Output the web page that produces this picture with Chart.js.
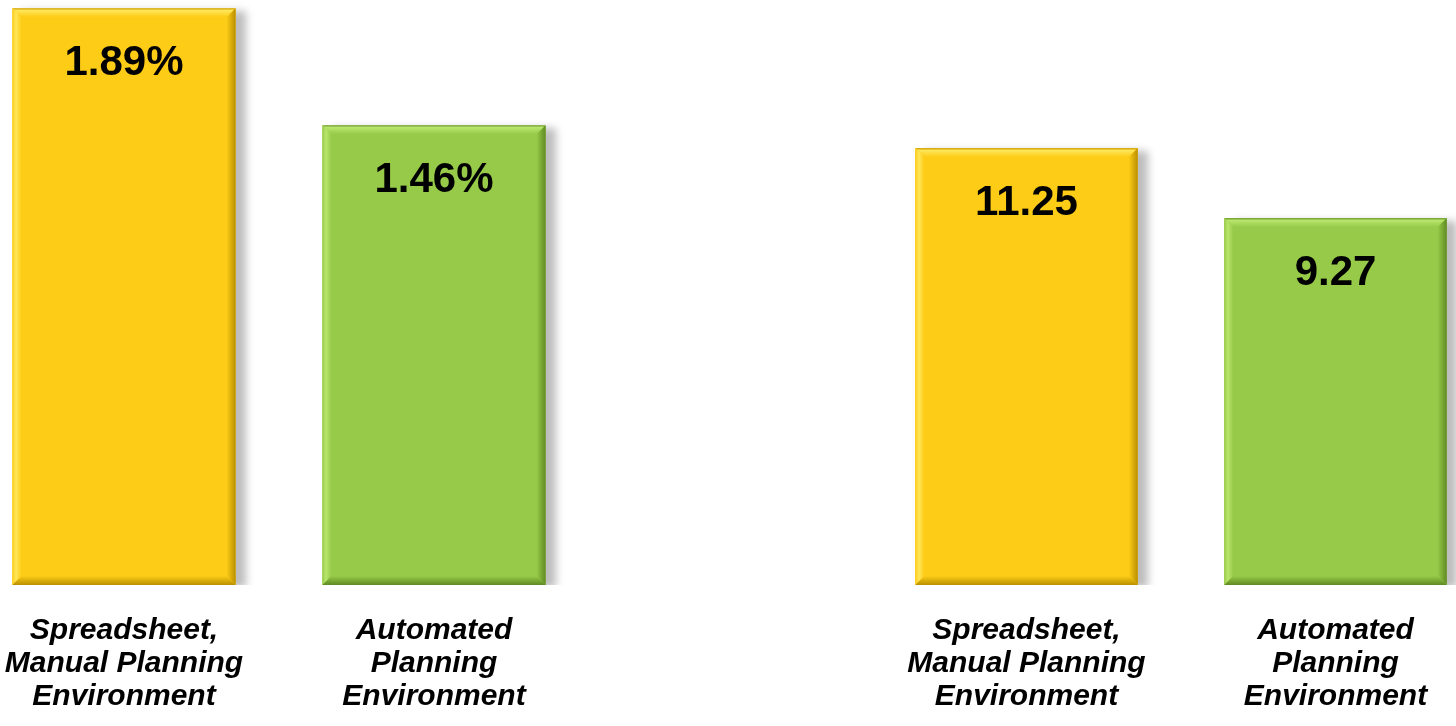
<!DOCTYPE html>
<html>
<head>
<meta charset="utf-8">
<script src="https://cdn.jsdelivr.net/npm/chart.js@4.4.0/dist/chart.umd.min.js"></script>
<style>
    html, body { margin: 0; padding: 0; background: #ffffff; overflow: hidden; width: 1456px; height: 726px; }
    .grafico { position: absolute; top: 0; height: 726px; }
    #graficoEsquerdo { left: -31px; width: 620px; }
    #graficoDireito { left: 872px; width: 618px; }
</style>
</head>
<body>
<div class="grafico" id="graficoEsquerdo"><canvas id="graficoEsquerdoCanvas"></canvas></div>
<div class="grafico" id="graficoDireito"><canvas id="graficoDireitoCanvas"></canvas></div>
<script>
const categorias = [
    ['Spreadsheet,', 'Manual Planning', 'Environment'],
    ['Automated', 'Planning', 'Environment']
]
const valoresEsquerda = [1.89, 1.46]
const valoresDireita = [11.25, 9.27]
const sufixoEsquerda = '%'
const sufixoDireita = ''
const cores = ['#FDCC17', '#97CA48']
const coresClaras = ['#FFE65A', '#B9E66E']
const coresEscuras = ['#B98F00', '#5F8A22']

// sombra atras das barras
const sombraBarras = {
    id: 'sombraBarras',
    beforeDatasetDraw(chart) {
        const ctx = chart.ctx
        ctx.save()
        ctx.shadowColor = 'rgba(0,0,0,0.26)'
        ctx.shadowBlur = 8
        ctx.shadowOffsetX = 10
        ctx.shadowOffsetY = 3
    },
    afterDatasetDraw(chart) {
        chart.ctx.restore()
    }
}

// chanfro 3D + rotulo de valor
const chanfroBarras = {
    id: 'chanfroBarras',
    afterDatasetsDraw(chart) {
        const ctx = chart.ctx
        const meta = chart.getDatasetMeta(0)
        const sufixo = chart.options.plugins.chanfroBarras.sufixo
        meta.data.forEach(function (bar, i) {
            const p = bar.getProps(['x', 'y', 'base', 'width'], true)
            const l = p.x - p.width / 2, r = p.x + p.width / 2
            const t = p.y, b = p.base
            const s = 9
            ctx.save()
            // topo
            let g = ctx.createLinearGradient(0, t, 0, t + s)
            g.addColorStop(0, coresEscuras[i] + '99')
            g.addColorStop(0.25, coresClaras[i])
            g.addColorStop(1, cores[i])
            ctx.fillStyle = g
            ctx.beginPath(); ctx.moveTo(l, t); ctx.lineTo(r, t); ctx.lineTo(r - s, t + s); ctx.lineTo(l + s, t + s); ctx.closePath(); ctx.fill()
            // esquerda
            g = ctx.createLinearGradient(l, 0, l + s, 0)
            g.addColorStop(0, cores[i])
            g.addColorStop(0.4, coresClaras[i])
            g.addColorStop(1, cores[i])
            ctx.fillStyle = g
            ctx.beginPath(); ctx.moveTo(l, t); ctx.lineTo(l + s, t + s); ctx.lineTo(l + s, b - s); ctx.lineTo(l, b); ctx.closePath(); ctx.fill()
            // direita
            g = ctx.createLinearGradient(r - s, 0, r, 0)
            g.addColorStop(0, cores[i])
            g.addColorStop(1, coresEscuras[i])
            ctx.fillStyle = g
            ctx.beginPath(); ctx.moveTo(r, t); ctx.lineTo(r, b); ctx.lineTo(r - s, b - s); ctx.lineTo(r - s, t + s); ctx.closePath(); ctx.fill()
            // base
            g = ctx.createLinearGradient(0, b - s, 0, b)
            g.addColorStop(0, cores[i])
            g.addColorStop(1, coresEscuras[i])
            ctx.fillStyle = g
            ctx.beginPath(); ctx.moveTo(l, b); ctx.lineTo(r, b); ctx.lineTo(r - s, b - s); ctx.lineTo(l + s, b - s); ctx.closePath(); ctx.fill()

            const valor = chart.data.datasets[0].data[i]
            ctx.fillStyle = '#000000'
            ctx.font = 'bold 42px "Liberation Sans", Arial, sans-serif'
            ctx.textAlign = 'center'
            ctx.textBaseline = 'alphabetic'
            ctx.fillText(valor.toFixed(2) + sufixo, p.x, t + 67)
            ctx.restore()
        })
    }
}

function criarGrafico(canvasId, valores, sufixo, minimo, maximo) {
    return new Chart(document.getElementById(canvasId), {
        type: 'bar',
        data: {
            labels: categorias,
            datasets: [{
                data: valores,
                base: minimo,
                backgroundColor: cores,
                borderWidth: 0,
                barPercentage: 0.72,
                categoryPercentage: 1
            }]
        },
        options: {
            responsive: true,
            maintainAspectRatio: false,
            animation: false,
            layout: { padding: 0 },
            plugins: {
                legend: { display: false },
                tooltip: { enabled: false },
                chanfroBarras: { sufixo: sufixo }
            },
            scales: {
                x: {
                    grid: { display: false, drawTicks: false },
                    border: { display: false },
                    ticks: {
                        color: '#000000',
                        padding: 29,
                        maxRotation: 0,
                        autoSkip: false,
                        font: { family: '"Liberation Sans", Arial, sans-serif', size: 30, weight: 'bold', style: 'italic', lineHeight: 1.1 }
                    },
                    afterFit: function (scale) { scale.height = 141 }
                },
                y: {
                    display: false,
                    min: minimo,
                    max: maximo
                }
            }
        },
        plugins: [sombraBarras, chanfroBarras]
    })
}

criarGrafico('graficoEsquerdoCanvas', valoresEsquerda, sufixoEsquerda, -0.23, 1.92)
criarGrafico('graficoDireitoCanvas', valoresDireita, sufixoDireita, -1.11, 15.44)
</script>
</body>
</html>
